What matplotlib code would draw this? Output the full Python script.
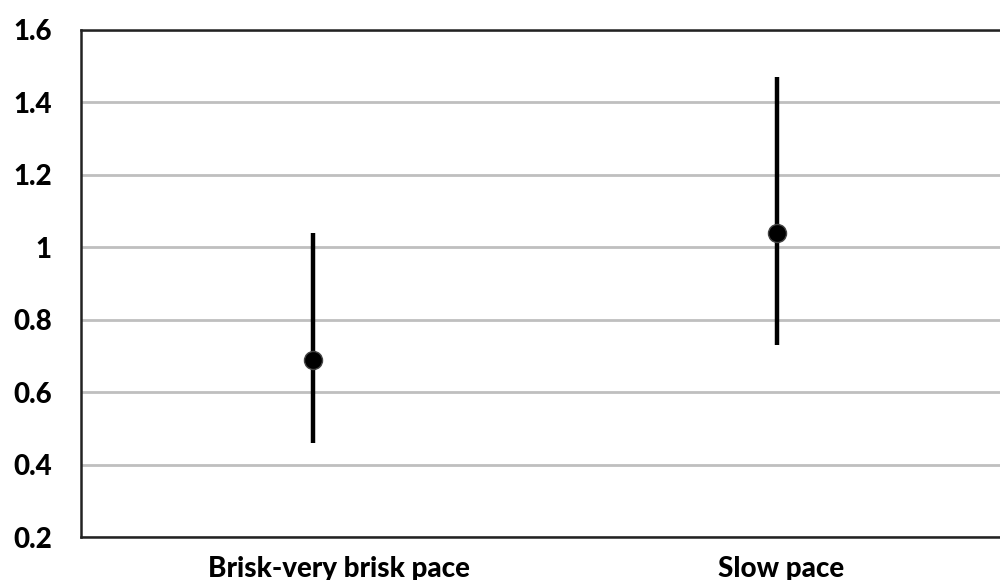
import matplotlib
matplotlib.use("Agg")
import matplotlib.pyplot as plt
import matplotlib.transforms as mtransforms
import numpy as np

categories = ["Brisk-very brisk pace", "Slow pace"]
estimates = [0.69, 1.04]
lower = [0.46, 0.73]
upper = [1.04, 1.47]
yticks = [0.2, 0.4, 0.6, 0.8, 1.0, 1.2, 1.4, 1.6]
ytick_labels = ["0.2", "0.4", "0.6", "0.8", "1", "1.2", "1.4", "1.6"]

plt.rcParams['font.family'] = ['Lato', 'DejaVu Sans']

fig = plt.figure(figsize=(10, 5.8), dpi=100)
ax = fig.add_axes([0.081, 0.0733, 0.928, 0.875])

x = np.arange(len(categories))
est = np.array(estimates)
yerr = np.vstack([est - np.array(lower), np.array(upper) - est])
ax.errorbar(x, est, yerr=yerr, fmt='o', color='black', ecolor='black',
            elinewidth=3.2, capsize=0, markersize=13,
            markerfacecolor='black', markeredgecolor='#444444', markeredgewidth=1, zorder=3)

ax.set_xlim(-0.5, len(categories) - 0.5)
ax.set_ylim(0.2, 1.6)
ax.set_yticks(yticks)
ax.set_yticklabels(ytick_labels, fontsize=20, fontweight='black')
ax.set_xticks(x)
ax.set_xticklabels(categories, fontsize=20, fontweight='black')
ax.tick_params(axis='y', length=0, pad=21)
ax.tick_params(axis='x', length=0, pad=13)

# label offsets as in the reference (labels slightly right of the markers)
shifts_px = [26, 4]
for lab, dx in zip(ax.get_xticklabels(), shifts_px):
    lab.set_transform(lab.get_transform() + mtransforms.Affine2D().translate(dx, 0))

ax.yaxis.grid(True, color='#bfbfbf', linewidth=2)
ax.set_axisbelow(True)
for s in ['top', 'bottom', 'left']:
    ax.spines[s].set_linewidth(1.8)
    ax.spines[s].set_color('#222222')
ax.spines['right'].set_visible(False)

fig.savefig("out.png", dpi=100)
